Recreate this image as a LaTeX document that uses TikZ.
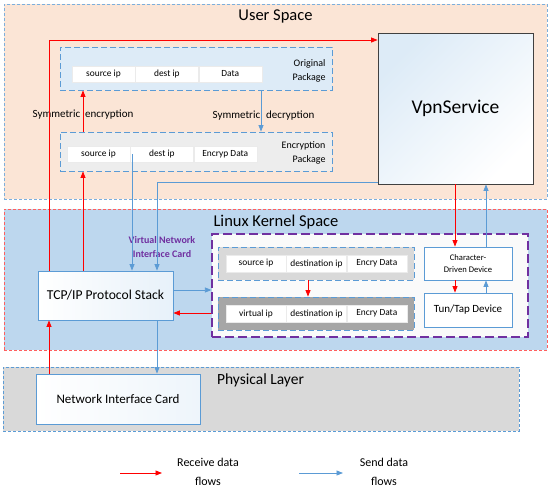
\documentclass[tikz,border=0pt]{standalone}
\usepackage{fontspec}
\setmainfont{Carlito}
\usepackage{tikz}
\usetikzlibrary{arrows.meta,positioning,shapes}
\definecolor{lineblue}{HTML}{5B9BD5}
\definecolor{recvred}{HTML}{FF0000}
\definecolor{userfill}{HTML}{FBE5D6}
\definecolor{kernfill}{HTML}{BDD7EE}
\definecolor{phyfill}{HTML}{D9D9D9}
\definecolor{origfill}{HTML}{DDEBF7}
\definecolor{encfill}{HTML}{EDEDED}
\definecolor{vnicpurple}{HTML}{7030A0}
\definecolor{darkpkt}{HTML}{A6A6A6}
\definecolor{kernred}{HTML}{FF5F5F}

\begin{document}
\begin{tikzpicture}[x=1pt,y=-1pt,
		recv/.style={draw=recvred,line width=0.8pt,-{Triangle[length=6.5pt,width=5pt]}},
		send/.style={draw=lineblue,line width=0.8pt,-{Triangle[length=6.5pt,width=5pt]}},
		layer/.style={rectangle,inner sep=0pt,line width=0.6pt,dash pattern=on 3pt off 2pt},
		pkgbox/.style={rectangle,inner sep=0pt,draw=lineblue,line width=0.9pt,dash pattern=on 6pt off 3pt},
		cell/.style={rectangle,fill=white,draw=black!8,inner sep=0pt,minimum height=16pt,minimum width=63pt,font=\fontsize{9.4}{10}\selectfont},
		kcell/.style={cell,minimum height=17pt,minimum width=60pt},
		title/.style={font=\fontsize{16.5}{18}\selectfont},
		devbox/.style={rectangle,inner sep=0pt,fill=white,draw=lineblue,line width=0.8pt,align=center},
	]
	\useasboundingbox (0,0) rectangle (550,493);

	% layers
	\node[layer,draw=lineblue!80,fill=userfill,minimum width=543pt,minimum height=195pt] (user) at (275.5,101.5) {};
	\node[layer,draw=kernred,fill=kernfill,minimum width=543pt,minimum height=141pt] (kernel) at (275.5,279.5) {};
	\node[layer,draw=lineblue,fill=phyfill,minimum width=516pt,minimum height=64pt] (phy) at (261,399) {};
	\node[title] (usertitle) at (275.5,16) {User Space};
	\node[title] (kerneltitle) at (276,222) {Linux Kernel Space};
	\node[font=\fontsize{15.5}{17}\selectfont] (phytitle) at (260.5,380) {Physical Layer};

	% packages in user space
	\node[pkgbox,fill=origfill,minimum width=272pt,minimum height=43pt] (orig) at (196,68.5) {};
	\node[pkgbox,fill=encfill,minimum width=272pt,minimum height=39pt] (enc) at (196,151.5) {};
	\begin{scope}[every node/.style={cell}]
		\node (orig-a) at (103.5,74) {source ip};
		\node[right=0pt of orig-a] (orig-b) {dest ip};
		\node[right=0pt of orig-b] (orig-c) {Data};
		\node (enc-a) at (98.5,154) {source ip};
		\node[right=0pt of enc-a] (enc-b) {dest ip};
		\node[right=0pt of enc-b] (enc-c) {Encryp Data};
	\end{scope}
	\begin{scope}[every node/.style={anchor=east,align=right,font=\fontsize{10}{14}\selectfont}]
		\node (origlbl) at (329,70.5) {Original\\Package};
		\node (enclbl) at (329,153) {Encryption\\Package};
	\end{scope}
	\begin{scope}[every node/.style={font=\fontsize{11}{12}\selectfont}]
		\node (symenc) at (83,115) {Symmetric\hspace{5pt}encryption};
		\node (symdec) at (263.5,116) {Symmetric\hspace{6pt}decryption};
	\end{scope}

	\node[rectangle,draw=black!75,line width=0.8pt,top color=origfill,bottom color=white,shading angle=45,
		minimum width=155pt,minimum height=151pt,font=\fontsize{19.5}{20}\selectfont] (vpn) at (455.5,108.5) {VpnService};

	% kernel space
	\node[rectangle,fill=black!2,draw=vnicpurple,line width=1.2pt,dash pattern=on 9pt off 4pt,
		minimum width=316pt,minimum height=103pt] (vnic) at (370,285.5) {};
	\node[text=vnicpurple,align=center,font=\bfseries\fontsize{10}{14}\selectfont] (vniclbl) at (162,247) {Virtual Network\\Interface Card};
	\node[pkgbox,fill=phyfill,line width=0.8pt,minimum width=196pt,minimum height=33pt] (pkt1) at (316,263.5) {};
	\node[pkgbox,fill=darkpkt,line width=0.8pt,minimum width=196pt,minimum height=33pt] (pkt2) at (316,313.5) {};
	\begin{scope}[every node/.style={kcell}]
		\node (pkt1-a) at (256,263.5) {source ip};
		\node[right=0pt of pkt1-a] (pkt1-b) {destination ip};
		\node[right=0pt of pkt1-b] (pkt1-c) {Encry Data};
		\node (pkt2-a) at (256,313.5) {virtual ip};
		\node[right=0pt of pkt2-a] (pkt2-b) {destination ip};
		\node[right=0pt of pkt2-b] (pkt2-c) {Encry Data};
	\end{scope}
	\node[devbox,minimum width=88pt,minimum height=33pt,font=\fontsize{8.6}{12}\selectfont] (chr) at (468,263.5) {Character-\\Driven Device};
	\node[devbox,minimum width=88pt,minimum height=34pt,font=\fontsize{11}{12}\selectfont] (tun) at (468,310) {Tun/Tap Device};
	\node[devbox,left color=white,right color=origfill!70,minimum width=135pt,minimum height=49pt,
		font=\fontsize{13.6}{15}\selectfont] (tcp) at (105.5,295.5) {TCP/IP Protocol Stack};

	% physical layer
	\node[devbox,left color=white,right color=origfill!50,minimum width=164pt,minimum height=50pt,
		font=\fontsize{13}{14}\selectfont] (nic) at (118,399) {Network Interface Card};

	% flows
	\coordinate (rx1) at (49,0);
	\coordinate (rx2) at (83,0);
	\coordinate (bx1) at (132,0);
	\coordinate (bx2) at (157,0);
	\coordinate (bx4) at (261,0);
	\coordinate (rx5) at (308,0);
	\coordinate (rx3) at (455,0);
	\coordinate (bx3) at (486,0);
	\coordinate (ry1) at (0,40);
	\coordinate (by1) at (0,182);
	\coordinate (by2) at (0,290);
	\coordinate (ry2) at (0,313);

	\draw[recv] (tcp.north -| rx1) |- (vpn.west |- ry1);
	\draw[recv] (tcp.north -| rx2) -- (enc.south -| rx2);
	\draw[recv] (enc.north -| rx2) -- (orig.south -| rx2);
	\draw[send] (orig.south -| bx4) -- (enc.north -| bx4);
	\draw[send] (enc-b.center -| bx1) -- (tcp.north -| bx1);
	\draw[send] (vpn.west |- by1) -| (tcp.north -| bx2);
	\draw[recv] (vpn.south -| rx3) -- (chr.north -| rx3);
	\draw[send] (chr.north -| bx3) -- (vpn.south -| bx3);
	\draw[recv] (chr.south -| rx3) -- (tun.north -| rx3);
	\draw[send] (tun.north -| bx3) -- (chr.south -| bx3);
	\draw[recv] (pkt1.south -| rx5) -- (pkt2.north -| rx5);
	\draw[send] (tcp.east |- by2) -- (vnic.west |- by2);
	\draw[recv] (vnic.west |- ry2) -- (tcp.east |- ry2);
	\draw[recv] (nic.north -| rx1) -- (tcp.south -| rx1);
	\draw[send] (tcp.south -| bx2) -- (nic.north -| bx2);

	% legend
	\coordinate (rl1) at (120,473);
	\coordinate (rl2) at (162,473);
	\coordinate (sl1) at (299,473);
	\coordinate (sl2) at (343,473);
	\draw[recv] (rl1) -- (rl2);
	\draw[send] (sl1) -- (sl2);
	\begin{scope}[every node/.style={align=center,font=\fontsize{12}{19}\selectfont}]
		\node (rlbl) at (208,472) {Receive data\\flows};
		\node (slbl) at (384,472) {Send data\\flows};
	\end{scope}
\end{tikzpicture}
\end{document}
